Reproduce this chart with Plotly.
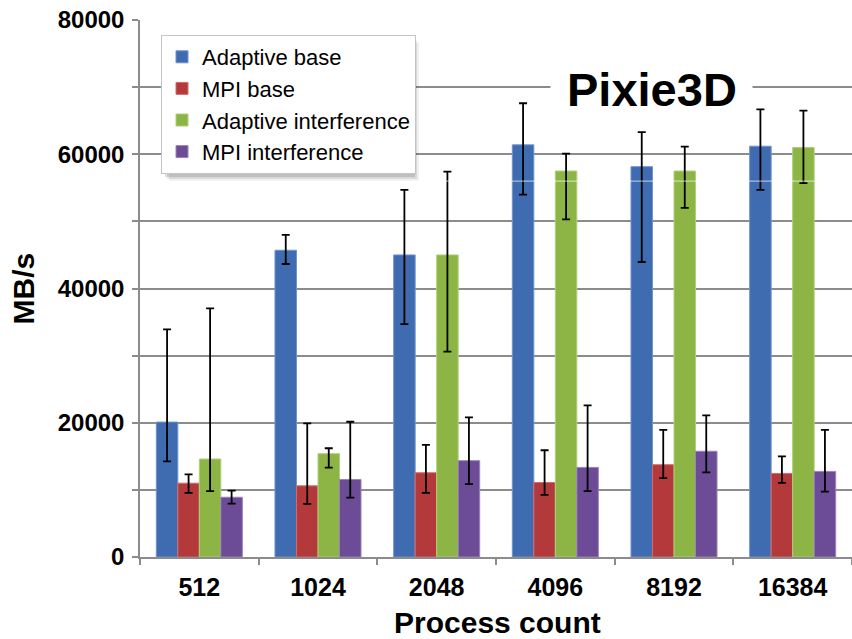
import plotly.graph_objects as go

# Process counts on the x axis
process_counts = ["512", "1024", "2048", "4096", "8192", "16384"]

# Mean throughput (MB/s) per configuration
adaptive_base = [20100, 45700, 45000, 61400, 58150, 61200]
mpi_base = [11000, 10600, 12550, 11100, 13750, 12450]
adaptive_interf = [14600, 15400, 45000, 57500, 57500, 61000]
mpi_interf = [8900, 11550, 14350, 13350, 15750, 12750]

# Error bar extents above / below the mean
adaptive_base_hi = [13800, 2300, 9700, 6200, 5150, 5500]
adaptive_base_lo = [5850, 2050, 10300, 7400, 14200, 6500]
mpi_base_hi = [1300, 9300, 4150, 4800, 5200, 2550]
mpi_base_lo = [1450, 2700, 3000, 1850, 2000, 1400]
adaptive_interf_hi = [22450, 800, 12400, 2600, 3650, 5500]
adaptive_interf_lo = [4800, 2100, 14400, 7200, 5500, 5300]
mpi_interf_hi = [1000, 8600, 6450, 9250, 5350, 6200]
mpi_interf_lo = [950, 2700, 3500, 3550, 3150, 3000]

y_ticks = [0, 20000, 40000, 60000, 80000]

series = [
    ("Adaptive base", adaptive_base, adaptive_base_hi, adaptive_base_lo, "#3f6cb1", "#6f93cc"),
    ("MPI base", mpi_base, mpi_base_hi, mpi_base_lo, "#b4393b", "#cf6d6d"),
    ("Adaptive interference", adaptive_interf, adaptive_interf_hi, adaptive_interf_lo, "#8cb545", "#b0cf7a"),
    ("MPI interference", mpi_interf, mpi_interf_hi, mpi_interf_lo, "#6c4c96", "#9a83b9"),
]

FONT = "Liberation Sans, Arial, sans-serif"

fig = go.Figure()
for i, (name, vals, hi, lo, color, edge) in enumerate(series):
    fig.add_trace(go.Bar(
        name=name,
        x=process_counts,
        y=vals,
        legendgroup=f"g{i}",
        marker=dict(color=color, line=dict(color=edge, width=1)),
        error_y=dict(type="data", symmetric=False, array=hi, arrayminus=lo,
                     color="black", thickness=1.8, width=4),
    ))

W, H = 852, 639
L, R, T, B = 140, 0, 20, 82
pw, ph = W - L - R, H - T - B


def px(xp):
    return (xp - L) / pw


def py(yp):
    return (H - B - yp) / ph


# legend box geometry (pixels)
lx0, ly0, lx1, ly1 = 161, 35, 413, 175

fig.update_layout(
    width=W, height=H,
    margin=dict(l=L, r=R, t=T, b=B, pad=0),
    paper_bgcolor="white", plot_bgcolor="white",
    barmode="group", bargap=0.275, bargroupgap=0,
    font=dict(family=FONT, color="black"),
    showlegend=True,
    legend=dict(
        x=px(lx0), y=py(ly0), xanchor="left", yanchor="top",
        bgcolor="white", bordercolor="#c4c4c4", borderwidth=1,
        font=dict(family=FONT, size=22, color="black"),
        tracegroupgap=0, traceorder="grouped",
    ),
    xaxis=dict(
        showgrid=False, showline=True, linecolor="#8c8c8c", linewidth=1.5,
        ticks="outside", tickson="boundaries", ticklen=6, tickcolor="#8c8c8c", tickwidth=1.5,
        tickfont=dict(family=FONT, size=25, color="black", weight="bold"),
        ticklabelstandoff=7,
    ),
    yaxis=dict(
        range=[0, 80000],
        tickvals=y_ticks, ticktext=[str(v) for v in y_ticks],
        showgrid=True, gridcolor="#8c8c8c", gridwidth=1.5,
        minor=dict(dtick=10000, showgrid=True, gridcolor="#8c8c8c", gridwidth=1.5,
                   ticks="outside", ticklen=6, tickcolor="#8c8c8c"),
        showline=True, linecolor="#8c8c8c", linewidth=1.5,
        ticks="outside", ticklen=6, tickcolor="#8c8c8c", tickwidth=1.5,
        tickfont=dict(family=FONT, size=24, color="black", weight="bold"),
        ticklabelstandoff=3, zeroline=False,
    ),
)

shapes = []
# soft drop shadow behind the legend
for k, op in enumerate([0.12, 0.09, 0.06]):
    off = 2 + 2 * k
    shapes.append(dict(type="rect", xref="paper", yref="paper", layer="above",
                       x0=px(lx0 + off + 2), x1=px(lx1 + off),
                       y0=py(ly1 + off), y1=py(ly0 + off + 2),
                       line=dict(width=0), fillcolor=f"rgba(0,0,0,{op})"))
# faint light streak across the bars
shapes.append(dict(type="line", xref="paper", yref="y", layer="above",
                   x0=0, x1=1, y0=56000, y1=56000,
                   line=dict(color="rgba(255,255,255,0.55)", width=1.2)))
fig.update_layout(shapes=shapes)

# white strip that interrupts the gridline around the title
fig.add_annotation(text=" ", xref="paper", yref="paper",
                   x=px(651.5), y=py(87), xanchor="center", yanchor="middle",
                   width=201, height=16, bgcolor="white", borderpad=0,
                   showarrow=False, font=dict(size=8))
fig.add_annotation(text="<b>Pixie3D</b>", xref="paper", yref="paper",
                   x=px(652), y=py(90), xanchor="center", yanchor="middle",
                   showarrow=False, font=dict(family=FONT, size=47, color="black"))
fig.add_annotation(text="<b>MB/s</b>", xref="paper", yref="paper",
                   x=0, y=0.5, xshift=-(L - 23), xanchor="center", yanchor="middle",
                   textangle=-90, showarrow=False,
                   font=dict(family=FONT, size=30, color="black"))
fig.add_annotation(text="<b>Process count</b>", xref="paper", yref="paper",
                   x=px(497), y=0, yshift=-65, xanchor="center", yanchor="middle",
                   showarrow=False, font=dict(family=FONT, size=30, color="black"))

fig.write_html("out.html")
